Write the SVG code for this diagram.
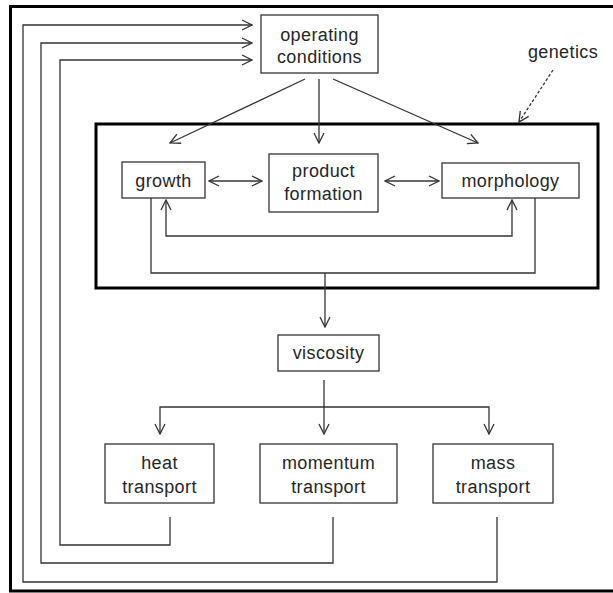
<svg xmlns="http://www.w3.org/2000/svg" width="613" height="593" viewBox="0 0 613 593">
  <defs>
    <marker id="arr" markerUnits="userSpaceOnUse" markerWidth="12" markerHeight="12" refX="10" refY="5" orient="auto-start-reverse" viewBox="-1 -1 12 12">
      <path d="M0,0 L10,5 L0,10" fill="none" stroke="#333" stroke-width="1.3"/>
    </marker>
  </defs>
  <style>
    .box { fill: #fff; stroke: #333; stroke-width: 1.3; }
    .frame { fill: none; stroke: #000; stroke-width: 3; }
    .ln { fill: none; stroke: #333; stroke-width: 1.3; }
    .a { marker-end: url(#arr); }
    .aa { marker-start: url(#arr); marker-end: url(#arr); }
    .dash { fill: none; stroke: #333; stroke-width: 1.3; stroke-dasharray: 3 2; }
    text { font-family: "Liberation Sans", Arial, sans-serif; font-size: 18px; fill: #262626; text-anchor: middle; letter-spacing: 0.4px; }
  </style>
  <rect width="613" height="593" fill="#fff"/>
  <rect class="frame" x="10.5" y="6.5" width="630" height="584.5"/>
  <rect id="cell-frame" class="frame" x="96" y="124" width="502" height="164"/>

  <g id="connectors">
    <path class="ln a" d="M170,517 V545 H60 V60 H252"/>
    <path class="ln a" d="M333,517 V563 H41 V43 H252"/>
    <path class="ln a" d="M497,517 V582 H23 V25 H252"/>
    <path class="ln a" d="M305,79 L170,143"/>
    <path class="ln a" d="M319,79 V143"/>
    <path class="ln a" d="M333,79 L478,143"/>
    <path class="ln aa" d="M209,181 H262"/>
    <path class="ln aa" d="M385,181 H439"/>
    <path class="ln aa" d="M166,200 V236 H512 V200"/>
    <path class="ln" d="M151,198 V273 H535 V198"/>
    <path class="ln a" d="M325,273 V327"/>
    <path class="ln a" d="M324,380 V434"/>
    <path class="ln aa" d="M160,434 V407 H489 V434"/>
    <path class="dash a" d="M553,70 L519,122"/>
  </g>

  <g id="operating-conditions">
    <rect class="box" x="261" y="15" width="117" height="58"/>
    <text x="319.5" y="41">operating</text>
    <text x="319.5" y="63">conditions</text>
  </g>
  <g id="genetics">
    <text x="563" y="58">genetics</text>
  </g>
  <g id="growth">
    <rect class="box" x="122" y="162" width="83" height="36"/>
    <text x="163.5" y="187">growth</text>
  </g>
  <g id="product-formation">
    <rect class="box" x="269" y="154" width="109" height="58"/>
    <text x="323.5" y="177">product</text>
    <text x="323.5" y="200">formation</text>
  </g>
  <g id="morphology">
    <rect class="box" x="442" y="163" width="137" height="35"/>
    <text x="510.5" y="187">morphology</text>
  </g>
  <g id="viscosity">
    <rect class="box" x="278" y="335" width="101" height="36"/>
    <text x="328.5" y="359">viscosity</text>
  </g>
  <g id="heat-transport">
    <rect class="box" x="105" y="444" width="109" height="59"/>
    <text x="159.5" y="469">heat</text>
    <text x="159.5" y="493">transport</text>
  </g>
  <g id="momentum-transport">
    <rect class="box" x="260" y="444" width="137" height="59"/>
    <text x="328.5" y="469">momentum</text>
    <text x="328.5" y="493">transport</text>
  </g>
  <g id="mass-transport">
    <rect class="box" x="433" y="444" width="120" height="59"/>
    <text x="493" y="469">mass</text>
    <text x="493" y="493">transport</text>
  </g>
</svg>
